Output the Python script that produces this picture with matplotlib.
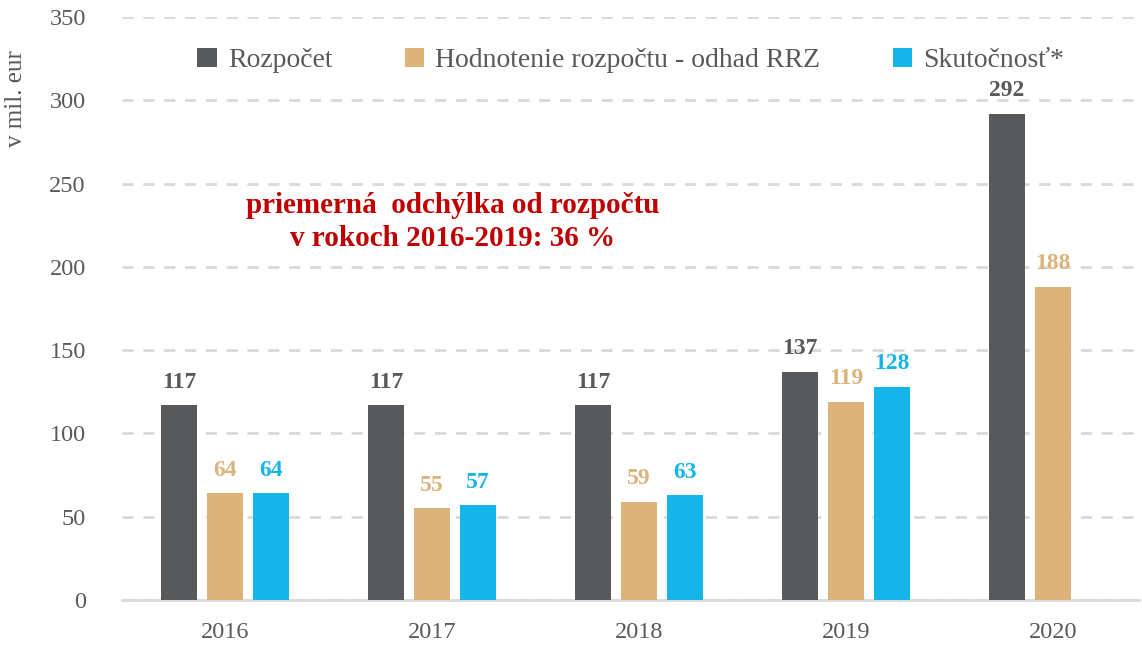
import matplotlib
matplotlib.use("Agg")
import matplotlib.pyplot as plt
import numpy as np

years = ["2016", "2017", "2018", "2019", "2020"]
rozpocet = [117, 117, 117, 137, 292]
hodnotenie = [64, 55, 59, 119, 188]
skutocnost = [64, 57, 63, 128, np.nan]
series_names = ["Rozpočet", "Hodnotenie rozpočtu - odhad RRZ", "Skutočnosť*"]
colors = ["#58595b", "#dbb37b", "#15b5e9"]
yticks = [0, 50, 100, 150, 200, 250, 300, 350]

plt.rcParams['font.family'] = ['Liberation Serif', 'DejaVu Serif']

fig = plt.figure(figsize=(11.42, 6.54), dpi=100)
ax = fig.add_axes([0.1068, 0.0826, 0.891, 0.8914])

x = np.arange(len(years))
width = 0.174
offset = 0.222
for i, (vals, col, name) in enumerate(zip([rozpocet, hodnotenie, skutocnost], colors, series_names)):
    pos = x + (i - 1) * offset
    ax.bar(pos, vals, width=width, color=col, label=name, zorder=3)
    for p, v in zip(pos, vals):
        if np.isnan(v):
            continue
        ax.annotate(f"{int(v)}", (p, v), xytext=(0, 9), textcoords="offset points",
                    ha="center", va="bottom", fontsize=17, fontweight="bold", color=col)

ax.set_xlim(-0.5, 4.42)
ax.set_ylim(0, 350)
ax.set_yticks(yticks)
ax.set_xticks(x)
ax.set_xticklabels(years)
ax.yaxis.grid(True, linestyle=(0, (4, 3.5)), color="#d9d9d9", linewidth=2, zorder=0)
ax.set_axisbelow(True)
for s in ["top", "right", "left"]:
    ax.spines[s].set_visible(False)
ax.spines["bottom"].set_color("#d9d9d9")
ax.spines["bottom"].set_linewidth(2)
ax.tick_params(axis="both", length=0, labelsize=17.5, colors="#595959")
ax.tick_params(axis="y", pad=26)
ax.tick_params(axis="x", pad=16)
ax.set_ylabel("v mil. eur", fontsize=18, color="#595959")
ax.yaxis.set_label_coords(-0.093, 0.86)

leg = ax.legend(loc="upper center", bbox_to_anchor=(0.5, 0.99), ncol=3, frameon=False,
                fontsize=20, handlelength=0.7, handleheight=0.7, handletextpad=0.4,
                columnspacing=2.6)
for t in leg.get_texts():
    t.set_color("#595959")

ax.text(1.1, 227, "priemerná  odchýlka od rozpočtu\nv rokoch 2016-2019: 36 %", ha="center", va="center",
        fontsize=21, fontweight="bold", color="#c00000", linespacing=1.25)

fig.savefig("out.png", dpi=100)
